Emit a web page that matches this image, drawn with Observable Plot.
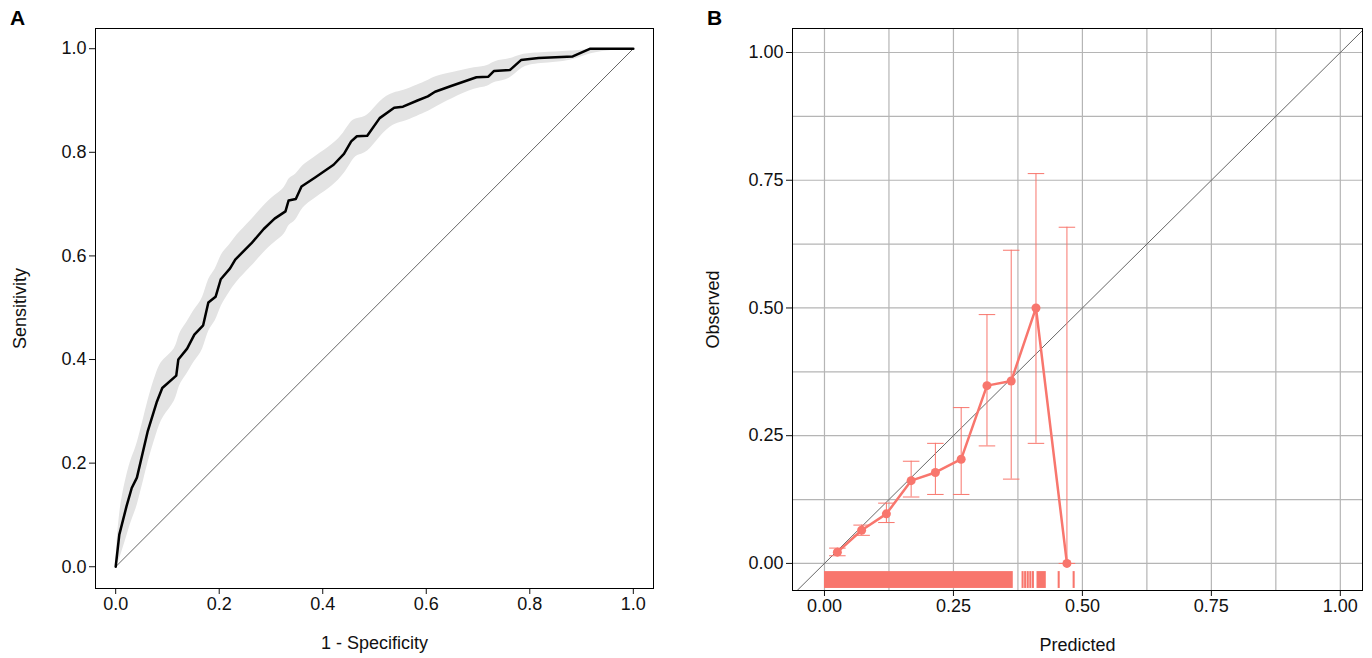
<!DOCTYPE html>
<html>
<head>
<meta charset="utf-8">
<script src="https://cdn.jsdelivr.net/npm/d3@7"></script>
<script src="https://cdn.jsdelivr.net/npm/@observablehq/plot@0.6"></script>
<style>
  body { margin: 0; background: white; font-family: "Liberation Sans", Arial, sans-serif; }
  #wrap { display: flex; position: relative; width: 1372px; height: 658px; }
  .tag { position: absolute; top: 6px; font-weight: bold; font-size: 21px; }
</style>
</head>
<body>
<div id="wrap">
  <div class="tag" style="left:10px">A</div>
  <div class="tag" style="left:707px">B</div>
  <div id="a"></div>
  <div id="b"></div>
</div>
<script>
// ROC curve (panel A)
const fpr = [0,0.007,0.021,0.031,0.041,0.062,0.079,0.09,0.117,0.121,0.138,0.152,0.169,0.179,0.193,0.203,0.221,0.231,0.262,0.286,0.307,0.328,0.334,0.348,0.359,0.386,0.421,0.441,0.455,0.466,0.486,0.51,0.538,0.555,0.583,0.603,0.617,0.648,0.697,0.72,0.731,0.762,0.783,0.817,0.883,0.917,1]
const tpr = [0,0.062,0.117,0.152,0.172,0.262,0.317,0.345,0.369,0.4,0.421,0.448,0.466,0.51,0.521,0.555,0.576,0.593,0.624,0.652,0.672,0.686,0.707,0.71,0.734,0.752,0.776,0.797,0.821,0.831,0.832,0.866,0.886,0.888,0.9,0.908,0.917,0.928,0.945,0.946,0.957,0.959,0.978,0.982,0.985,1,1]
const ciHalf = [0.01,0.05,0.06,0.06,0.06,0.06,0.06,0.055,0.05,0.05,0.05,0.05,0.05,0.05,0.05,0.05,0.045,0.045,0.045,0.045,0.045,0.045,0.045,0.045,0.04,0.04,0.04,0.04,0.04,0.035,0.035,0.035,0.03,0.03,0.03,0.03,0.03,0.025,0.02,0.02,0.02,0.02,0.012,0.01,0.01,0.006,0]

// Calibration (panel B)
const pred = [0.025,0.072,0.12,0.168,0.215,0.265,0.315,0.362,0.41,0.47]
const obs = [0.022,0.065,0.097,0.162,0.178,0.204,0.348,0.357,0.5,0.0]
const obsLo = [0.015,0.055,0.08,0.13,0.135,0.135,0.23,0.165,0.235,0]
const obsHi = [0.03,0.075,0.118,0.2,0.235,0.305,0.487,0.613,0.763,0.658]
const rugStart = [0,0.383,0.388,0.393,0.398,0.403,0.412,0.453,0.482]
const rugEnd = [0.366,0.387,0.392,0.397,0.402,0.407,0.43,0.457,0.486]

const roc = fpr.map((x, i) => ({x, y: tpr[i], lo: Math.max(0, tpr[i] - ciHalf[i]), hi: Math.min(1, tpr[i] + ciHalf[i])}))
const cal = pred.map((x, i) => ({x, y: obs[i], lo: obsLo[i], hi: obsHi[i]}))
const rug = rugStart.map((x1, i) => ({x1, x2: rugEnd[i]}))

const font = {fontFamily: '"Liberation Sans", Arial, sans-serif', fontSize: '18px', color: '#111', background: 'white', overflow: 'visible'}

let chartA = Plot.plot({
  width: 690, height: 658,
  marginLeft: 95, marginRight: 37, marginTop: 28, marginBottom: 70,
  style: font,
  x: {domain: [-0.039, 1.039], ticks: [0,0.2,0.4,0.6,0.8,1], tickFormat: '.1f', tickSize: 6, label: '1 - Specificity', labelAnchor: 'center', labelOffset: 60, labelArrow: 'none'},
  y: {domain: [-0.042, 1.039], ticks: [0,0.2,0.4,0.6,0.8,1], tickFormat: '.1f', tickSize: 6, label: 'Sensitivity', labelAnchor: 'center', labelOffset: 82, labelArrow: 'none'},
  marks: [
    Plot.areaY(roc, {x: 'x', y1: 'lo', y2: 'hi', fill: '#e3e3e3', curve: 'basis'}),
    Plot.line([[0,0],[1,1]], {stroke: '#666', strokeWidth: 1}),
    Plot.line(roc, {x: 'x', y: 'y', stroke: 'black', strokeWidth: 2.5}),
    Plot.frame({stroke: 'black'})
  ]
})

let chartB = Plot.plot({
  width: 682, height: 658,
  marginLeft: 102, marginRight: 10, marginTop: 28, marginBottom: 68,
  style: font,
  x: {domain: [-0.062, 1.043], ticks: [0,0.25,0.5,0.75,1], tickFormat: '.2f', tickSize: 6, label: 'Predicted', labelAnchor: 'center', labelOffset: 60, labelArrow: 'none'},
  y: {domain: [-0.053, 1.047], ticks: [0,0.25,0.5,0.75,1], tickFormat: '.2f', tickSize: 6, label: 'Observed', labelAnchor: 'center', labelOffset: 86, labelArrow: 'none'},
  marks: [
    Plot.gridX([0,0.125,0.25,0.375,0.5,0.625,0.75,0.875,1], {stroke: '#b5b5b5', strokeOpacity: 1, strokeWidth: 1.2}),
    Plot.gridY([0,0.125,0.25,0.375,0.5,0.625,0.75,0.875,1], {stroke: '#b5b5b5', strokeOpacity: 1, strokeWidth: 1.2}),
    Plot.line([[-0.062,-0.062],[1.043,1.043]], {stroke: '#666', strokeWidth: 1, clip: true}),
    Plot.rect(rug, {x1: 'x1', x2: 'x2', y1: -0.049, y2: -0.016, fill: '#f8766d'}),
    Plot.ruleX(cal, {x: 'x', y1: 'lo', y2: 'hi', stroke: '#f8766d', strokeWidth: 1}),
    Plot.link(cal, {x1: d => d.x - 0.016, x2: d => d.x + 0.016, y1: 'hi', y2: 'hi', stroke: '#f8766d'}),
    Plot.link(cal, {x1: d => d.x - 0.016, x2: d => d.x + 0.016, y1: 'lo', y2: 'lo', stroke: '#f8766d'}),
    Plot.line(cal, {x: 'x', y: 'y', stroke: '#f8766d', strokeWidth: 2.5}),
    Plot.dot(cal, {x: 'x', y: 'y', fill: '#f8766d', r: 4.5}),
    Plot.frame({stroke: 'black'})
  ]
})

d3.select('#a').append(() => chartA)
d3.select('#b').append(() => chartB)
</script>
</body>
</html>
